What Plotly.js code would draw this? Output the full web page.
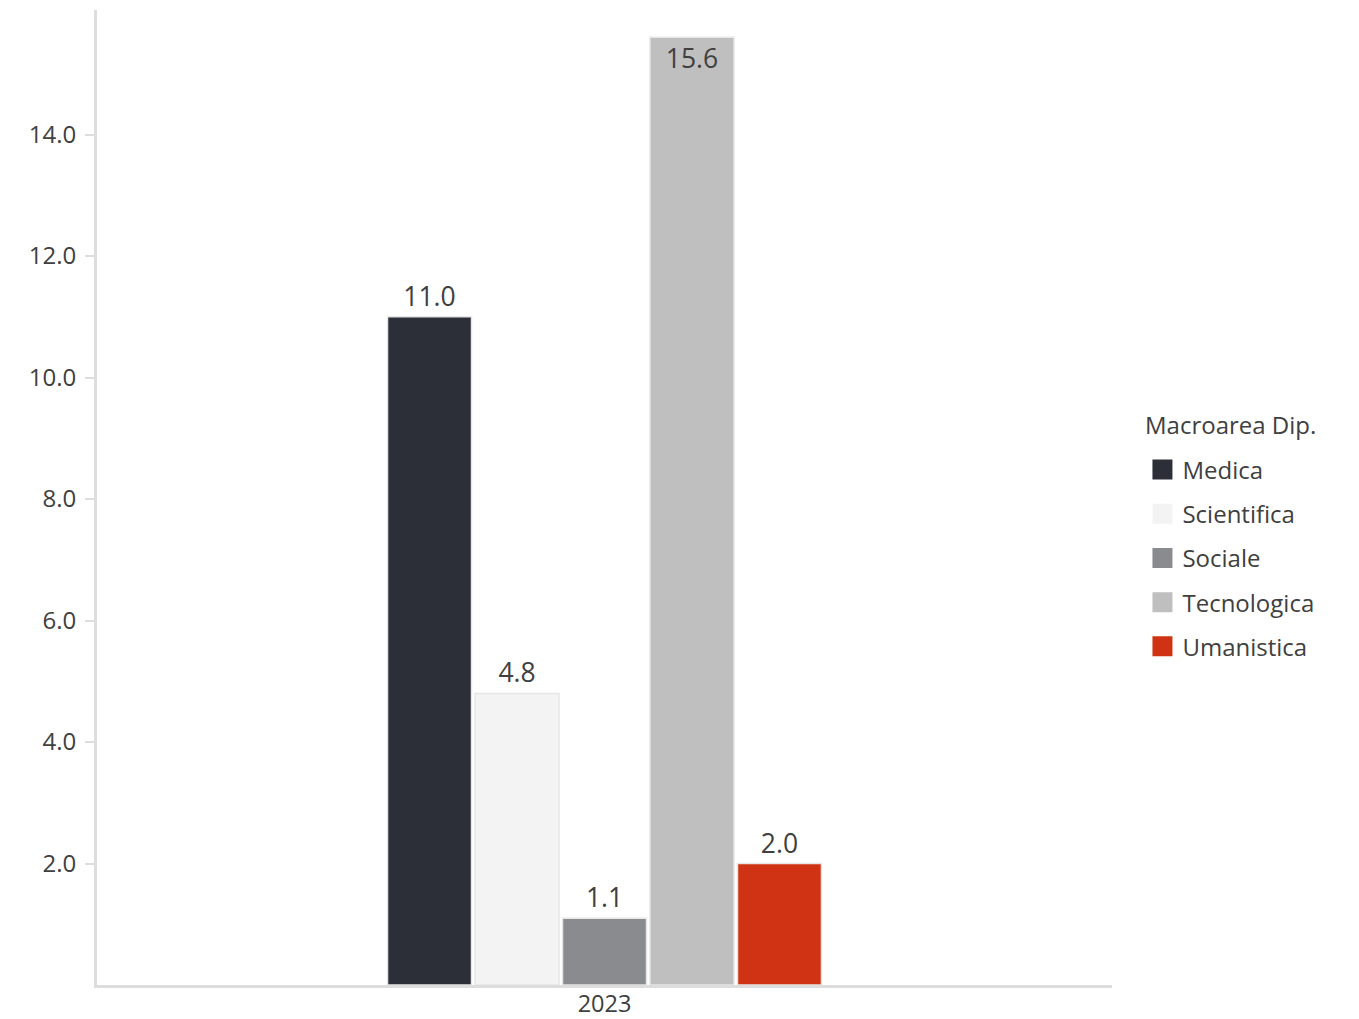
<!DOCTYPE html>
<html>
<head>
<meta charset="utf-8">
<script src="https://cdn.plot.ly/plotly-3.0.1.min.js"></script>
<style>html,body{margin:0;padding:0;background:#fff;}#chart{width:1359px;height:1019px;}</style>
</head>
<body>
<div id="chart"></div>
<script>
const categories = ["2023"];
const seriesNames = ["Medica", "Scientifica", "Sociale", "Tecnologica", "Umanistica"];
const seriesValues = [[11.0], [4.8], [1.1], [15.6], [2.0]];
const seriesColors = ["#2c2f37", "#f3f3f3", "#8a8b8f", "#bfbfbf", "#cf3313"];
const tickVals = [2, 4, 6, 8, 10, 12, 14];
const tickText = ["2.0", "4.0", "6.0", "8.0", "10.0", "12.0", "14.0"];
const legendTitle = "Macroarea Dip.";

const FONT = "Open Sans, sans-serif";
const TXT = "#404040";

const barTraces = seriesNames.map((name, i) => ({
  type: "bar",
  name: name,
  legendgroup: name,
  showlegend: false,
  x: categories,
  y: seriesValues[i],
  marker: { color: seriesColors[i], line: { color: "#e6e6e6", width: 1.5 } },
  text: seriesValues[i].map(v => v.toFixed(1)),
  textposition: seriesValues[i][0] > 15 ? "inside" : "outside",
  insidetextanchor: "end",
  textfont: { family: FONT, size: 26.5, color: TXT },
  insidetextfont: { family: FONT, size: 26.5, color: TXT },
  outsidetextfont: { family: FONT, size: 26.5, color: TXT },
  cliponaxis: false,
  hoverinfo: "none"
}));

// legend swatches (no plotted data, legend entries only)
const legendTraces = seriesNames.map((name, i) => ({
  type: "scatter",
  mode: "markers",
  name: name,
  legendgroup: name,
  x: [null], y: [null],
  marker: { symbol: "square", size: 16, color: seriesColors[i], line: { color: seriesColors[i], width: 4 } },
  hoverinfo: "none"
}));

const layout = {
  width: 1359, height: 1019,
  margin: { l: 97, r: 247, t: 10, b: 34 },
  paper_bgcolor: "#fff", plot_bgcolor: "#fff",
  barmode: "group", bargap: 0.569, bargroupgap: 0.04,
  font: { family: FONT, color: TXT, size: 24 },
  xaxis: {
    type: "category",
    showline: true, linecolor: "#dddddd", linewidth: 3,
    ticks: "", ticklabelstandoff: -4,
    tickfont: { family: FONT, size: 23.5, color: TXT },
    showgrid: false, zeroline: false, fixedrange: true
  },
  yaxis: {
    range: [0, 16.05], showline: true, linecolor: "#dddddd", linewidth: 3,
    ticks: "outside", ticklen: 9, tickcolor: "#dddddd", tickwidth: 2,
    ticklabelstandoff: 4,
    tickvals: tickVals, ticktext: tickText,
    tickfont: { family: FONT, size: 24, color: TXT },
    showgrid: false, zeroline: false, fixedrange: true
  },
  legend: {
    x: 1.03, xanchor: "left", y: 0.438, yanchor: "middle",
    traceorder: "grouped", tracegroupgap: 10,
    font: { family: FONT, size: 24, color: TXT },
    bgcolor: "rgba(0,0,0,0)"
  },
  annotations: [{
    xref: "paper", yref: "paper", x: 1.031, y: 0.575,
    xanchor: "left", yanchor: "middle", showarrow: false,
    text: legendTitle, font: { family: FONT, size: 24, color: TXT }
  }],
  showlegend: true
};

Plotly.newPlot("chart", barTraces.concat(legendTraces), layout, { displayModeBar: false, staticPlot: true });
</script>
</body>
</html>
